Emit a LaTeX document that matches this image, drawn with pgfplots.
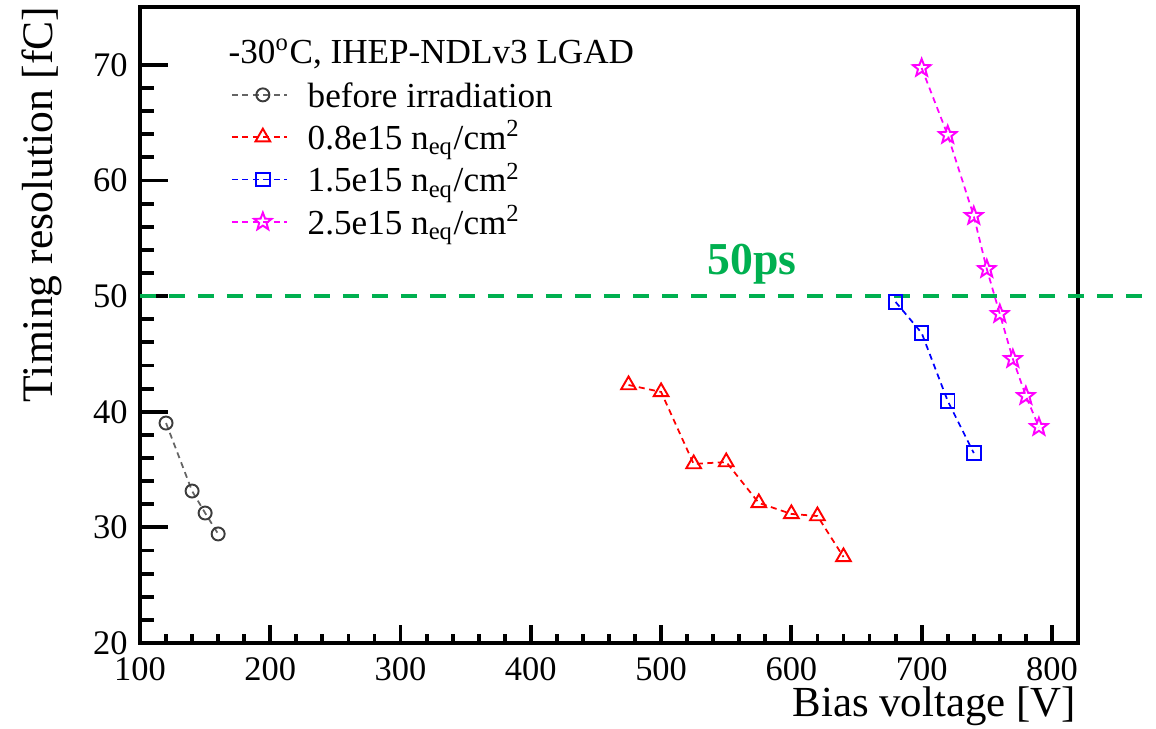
\documentclass[border=0pt]{standalone}
\usepackage{fontspec}
\setmainfont{Liberation Serif}
\usepackage{pgfplots}
\pgfplotsset{compat=1.18}
\definecolor{lgreen}{RGB}{0,176,80}
\definecolor{dgray}{RGB}{60,60,60}
\definecolor{lgray}{RGB}{100,100,100}
\definecolor{pred}{RGB}{255,0,0}
\definecolor{pblue}{RGB}{0,0,255}
\definecolor{pmag}{RGB}{255,0,255}
\pgfdeclareplotmark{ostar}{%
 \pgfpathmoveto{\pgfpointpolar{90}{\pgfplotmarksize}}%
 \pgfpathlineto{\pgfpointpolar{126}{0.42*\pgfplotmarksize}}%
 \pgfpathlineto{\pgfpointpolar{162}{\pgfplotmarksize}}%
 \pgfpathlineto{\pgfpointpolar{198}{0.42*\pgfplotmarksize}}%
 \pgfpathlineto{\pgfpointpolar{234}{\pgfplotmarksize}}%
 \pgfpathlineto{\pgfpointpolar{270}{0.42*\pgfplotmarksize}}%
 \pgfpathlineto{\pgfpointpolar{306}{\pgfplotmarksize}}%
 \pgfpathlineto{\pgfpointpolar{342}{0.42*\pgfplotmarksize}}%
 \pgfpathlineto{\pgfpointpolar{18}{\pgfplotmarksize}}%
 \pgfpathlineto{\pgfpointpolar{54}{0.42*\pgfplotmarksize}}%
 \pgfpathclose\pgfusepathqstroke}
\pgfplotsset{
 common/.style={
  scale only axis, width=93.8mm, height=63.6mm,
  xmin=100, xmax=820, ymin=20, ymax=75,
  tick align=inside, tick pos=left,
  every tick/.style={black, line width=1.1pt},
  /pgf/number format/assume math mode=true,
  ticklabel style={font=\fontsize{9.8}{11}\selectfont},
 },
 dline/.style={line width=0.5pt, dash pattern=on 0.6mm off 0.45mm, every mark/.append style={solid, line width=0.55pt}},
}
\begin{document}
\begin{tikzpicture}
% x axis ticks and label
\begin{axis}[common,
  axis line style={draw=none},
  ytick=\empty,
  xtick={100,200,...,800}, minor x tick num=4,
  major tick length=1.8mm, minor tick length=0.9mm,
  xticklabel style={inner sep=0pt, yshift=-1.35mm},
  xlabel={Bias voltage [V]},
  xlabel style={at={(rel axis cs:0.9985,-0.1160)}, anchor=base east, inner sep=0pt, text height=1.6mm, font=\fontsize{12.2}{14}\selectfont},
]
\addplot[draw=none, forget plot] coordinates {(100,20)};
\end{axis}
% main axis
\begin{axis}[common,
  clip=false,
  axis line style={line width=1.1pt},
  xtick=\empty,
  ytick={20,30,...,70}, minor y tick num=4,
  major tick length=2.8mm, minor tick length=1.45mm,
  ylabel={Timing resolution [fC]},
  ylabel style={at={(rel axis cs:-0.0928,1.0016)}, anchor=base east, inner sep=0pt, font=\fontsize{12.4}{14}\selectfont},
  legend style={at={(rel axis cs:0.0970,0.8880)}, anchor=north west, draw=none, fill=none,
    inner sep=0pt, outer sep=0pt, row sep=0pt,
    font=\fontsize{10}{12}\selectfont,
    nodes={inner sep=0pt, text height=2.9mm, text depth=1.33mm},
    /tikz/every odd column/.append style={column sep=2mm}},
  legend cell align=left,
  legend image code/.code={\draw[mark repeat=2,mark phase=2,#1] plot coordinates {(0mm,0.45mm) (3.1mm,0.45mm) (5.5mm,0.45mm)};},
]
\coordinate (bbsw) at (rel axis cs:-0.14925,-0.13522);
\coordinate (bbne) at (rel axis cs:1.08316,1.0110);
\addplot[forget plot, lgreen, line width=1.15pt, dash pattern=on 1.6mm off 1.3mm] coordinates {(100,50) (875,50)};
\addplot[dline, lgray, mark=o, mark size=0.65mm, every mark/.append style={draw=dgray}] coordinates {
 (120,39.02) (140,33.14) (150,31.24) (160,29.43)};
\addlegendentry{before irradiation}
\addplot[dline, pred, mark=triangle, mark size=0.85mm] coordinates {
 (475,42.31) (500,41.71) (525,35.48) (550,35.65) (575,32.11) (600,31.16) (620,30.98) (640,27.44)};
\addlegendentry{0.8e15 n\textsubscript{eq}/cm\textsuperscript{2}}
\addplot[dline, pblue, mark=square, mark size=0.68mm] coordinates {
 (680,49.49) (700,46.81) (720,40.93) (740,36.43)};
\addlegendentry{1.5e15 n\textsubscript{eq}/cm\textsuperscript{2}}
\addplot[dline, pmag, mark=ostar, mark size=0.92mm] coordinates {
 (700,69.72) (720,63.93) (740,56.93) (750,52.34) (760,48.45) (770,44.56) (780,41.36) (790,38.68)};
\addlegendentry{2.5e15 n\textsubscript{eq}/cm\textsuperscript{2}}
\node[anchor=base west, inner sep=0pt, font=\fontsize{10}{12}\selectfont] at (rel axis cs:0.0938,0.9119) {-30\textsuperscript{o}C, IHEP-NDLv3 LGAD};
\node[anchor=base, inner sep=0pt, text=lgreen, font=\bfseries\fontsize{13}{15}\selectfont] at (axis cs:569.8,51.9) {50ps};
\end{axis}
\pgfresetboundingbox
\path[use as bounding box] (bbsw) rectangle (bbne);
\end{tikzpicture}
\end{document}
